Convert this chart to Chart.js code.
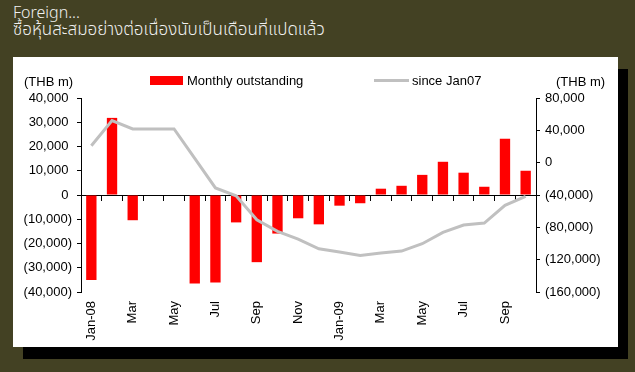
<!DOCTYPE html>
<html>
<head>
<meta charset="utf-8">
<script src="https://cdn.jsdelivr.net/npm/chart.js@4/dist/chart.umd.min.js"></script>
<style>
  body { margin: 0; width: 635px; height: 372px; background: #434123; position: relative; overflow: hidden; font-family: "Liberation Sans", Arial, sans-serif; }
  .title { position: absolute; left: 13px; color: #f0f0f0; font-family: "Noto Sans Thai", "Noto Sans", "DejaVu Sans", sans-serif; font-weight: 300; line-height: 1; }
  .panel { position: absolute; left: 13px; top: 57px; width: 605px; height: 290px; background: #fff; box-shadow: 10px 12px 0 #000; }
  .lbl { position: absolute; font-size: 13px; color: #000; white-space: nowrap; }
  .swatch { position: absolute; }
</style>
</head>
<body>
<div class="title" style="top:5px;font-size:16px;">Foreign...</div>
<div class="title" style="top:22px;font-size:17px;">ซื้อหุ้นสะสมอย่างต่อเนื่องนับเป็นเดือนที่แปดแล้ว</div>
<div class="panel">
  <canvas id="chart" width="605" height="290"></canvas>
  <div class="lbl" style="left:11px;top:17px;">(THB m)</div>
  <div class="lbl" style="left:543px;top:17px;">(THB m)</div>
  <div class="swatch" style="left:137px;top:19px;width:33px;height:9px;background:#ff0000;"></div>
  <div class="lbl" style="left:174px;top:16px;">Monthly outstanding</div>
  <div class="swatch" style="left:361px;top:22px;width:35px;height:3px;background:#c0c0c0;"></div>
  <div class="lbl" style="left:399px;top:16px;">since Jan07</div>
</div>
<script>
// months Jan-08 .. Oct-09
const months = ['Jan-08','Feb-08','Mar-08','Apr-08','May-08','Jun-08','Jul-08','Aug-08','Sep-08','Oct-08','Nov-08','Dec-08',
  'Jan-09','Feb-09','Mar-09','Apr-09','May-09','Jun-09','Jul-09','Aug-09','Sep-09','Oct-09'];
const tickLabels = ['Jan-08','','Mar','','May','','Jul','','Sep','','Nov','','Jan-09','','Mar','','May','','Jul','','Sep',''];
// THB m
const monthly = [-35100, 31800, -10400, 0, 0, -36500, -36100, -11300, -27700, -15900, -9600, -12100,
  -4400, -3400, 2600, 3800, 8300, 13700, 9200, 3400, 23200, 10000];
const sinceJan07 = [21000, 52000, 41700, 41700, 41700, 5200, -31300, -40900, -70600, -85000, -94500, -106500,
  -110600, -114800, -111800, -109400, -100300, -86300, -77200, -74700, -52800, -41700];

const fmt = (v, pad) => {
  const s = Math.abs(v).toLocaleString('en-US');
  return v < 0 ? '(' + s + ')' : s + (pad ? ' ' : '');
};
const font = { family: '"Liberation Sans", Arial, sans-serif', size: 13 };

new Chart(document.getElementById('chart'), {
  type: 'bar',
  data: {
    labels: months,
    datasets: [
      { type: 'line', label: 'since Jan07', data: sinceJan07, yAxisID: 'y1', xAxisID: 'x',
        borderColor: '#c0c0c0', borderWidth: 3, pointRadius: 0, tension: 0, order: 0 },
      { label: 'Monthly outstanding', data: monthly, yAxisID: 'y', xAxisID: 'x',
        backgroundColor: '#ff0000', barPercentage: 0.5, categoryPercentage: 1, order: 1 }
    ]
  },
  options: {
    animation: false,
    responsive: false,
    layout: { padding: { top: 41, left: 0, right: 0, bottom: 0 } },
    plugins: { legend: { display: false }, tooltip: { enabled: false } },
    scales: {
      x: {
        position: 'bottom',
        grid: { display: false, drawTicks: false },
        border: { display: false },
        ticks: { autoSkip: false, maxRotation: 90, minRotation: 90, padding: 9, color: '#000', font,
          callback: (v, i) => tickLabels[i] },
        afterFit: s => { s.height = 55; }
      },
      x2: {
        type: 'category',
        position: { y: 0 },
        offset: true,
        grid: { offset: true, drawOnChartArea: false, tickLength: 5, color: '#000' },
        border: { color: '#000' },
        ticks: { display: false }
      },
      y: {
        position: 'left',
        min: -40000, max: 40000,
        grid: { drawOnChartArea: false, tickLength: 4, color: '#000' },
        border: { color: '#000' },
        ticks: { stepSize: 10000, padding: 5, color: '#000', font, callback: v => fmt(v, true) },
        afterFit: s => { s.width = 68; }
      },
      y1: {
        position: 'right',
        min: -160000, max: 80000,
        grid: { drawOnChartArea: false, tickLength: 4, color: '#000' },
        border: { color: '#000' },
        ticks: { stepSize: 40000, padding: 5, color: '#000', font, callback: v => fmt(v, false) },
        afterFit: s => { s.width = 82; }
      }
    }
  }
});
</script>
</body>
</html>
